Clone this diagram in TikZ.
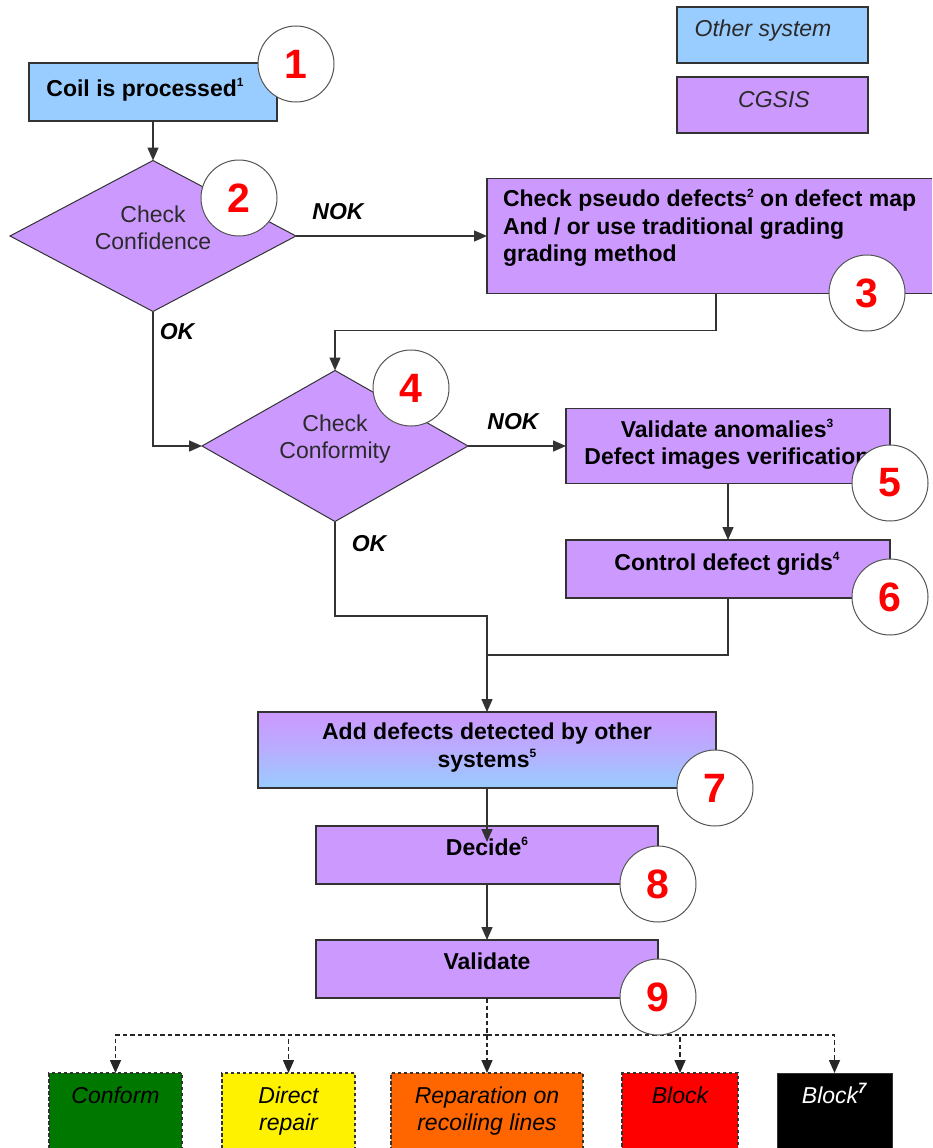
\documentclass[tikz,border=0pt]{standalone}
\usepackage{fontspec}
\setmainfont{Liberation Sans}
\usetikzlibrary{shapes.geometric,arrows.meta,calc}
\definecolor{cgsis}{HTML}{CC99FF}
\definecolor{other}{HTML}{99CCFF}
\definecolor{linec}{HTML}{333333}
\definecolor{circc}{HTML}{555555}
\definecolor{txtc}{HTML}{2A2A2A}
\definecolor{okgreen}{HTML}{007800}
\definecolor{orangeb}{HTML}{FF6600}
\newcommand\sups[1]{\smash{\raisebox{0.42em}{\fontsize{12}{12}\selectfont #1}}}
\begin{document}
\begin{tikzpicture}[x=1pt,y=-1pt,
  every node/.style={inner sep=0pt, outer sep=0pt},
  pbox/.style={draw=linec, line width=1.3pt, fill=cgsis},
  dec/.style={diamond, draw=linec, line width=1pt, fill=cgsis},
  num/.style={circle, draw=circc, line width=1pt, fill=white, minimum size=76pt, text=red, font=\fontsize{41}{41}\selectfont\bfseries},
  bt/.style={font=\fontsize{23}{27.5}\selectfont\bfseries, text=black},
  rt/.style={font=\fontsize{23}{27}\selectfont, text=txtc},
  it/.style={font=\fontsize{23}{27}\selectfont\itshape, text=txtc},
  lab/.style={font=\fontsize{23}{27.5}\selectfont\bfseries\itshape, text=black},
  conn/.style={draw=linec, line width=1.5pt},
  arr/.style={conn, -{Triangle[length=13pt,width=11pt]}},
  dline/.style={draw=black!85, line width=1.5pt, dash pattern=on 4.5pt off 3pt},
  darr/.style={dline, -{Triangle[length=13pt,width=11pt]}},
  obox/.style={draw=linec, line width=1.2pt, dash pattern=on 3.5pt off 2.5pt, minimum height=100pt},
  ot/.style={font=\fontsize{23}{27}\selectfont\itshape, text=black}
]
\useasboundingbox (0,0) rectangle (932,1148);
\clip (0,0) rectangle (932,1148);

% legend
\node[pbox, fill=other, minimum width=191pt, minimum height=56pt] (lg1) at (772.5,35) {};
\node[pbox, minimum width=191pt, minimum height=56pt] (lg2) at (772.5,105) {};
\node[it, anchor=base] (lg1t) at (763,37) {Other system};
\node[it, anchor=base] (lg2t) at (774,107) {CGSIS};

% boxes and decisions
\node[pbox, fill=other, minimum width=248pt, minimum height=58pt] (b1) at (153,92) {};
\node[dec, minimum width=286pt, minimum height=151pt] (d2) at (153,236) {};
\node[pbox, minimum width=458pt, minimum height=115pt] (b3) at (716,236) {};
\node[dec, minimum width=266pt, minimum height=151pt] (d4) at (335,446) {};
\node[pbox, minimum width=324pt, minimum height=75pt] (b5) at (728,446) {};
\node[pbox, minimum width=324pt, minimum height=58pt] (b6) at (728,569) {};
\node[draw=linec, line width=1.3pt, top color=cgsis, bottom color=other, middle color=cgsis!60!other, minimum width=458pt, minimum height=76pt] (b7) at (487,750) {};
\node[pbox, minimum width=342pt, minimum height=58pt] (b8) at (487,855) {};
\node[pbox, minimum width=342pt, minimum height=58pt] (b9) at (487,969) {};

% outcome boxes
\node[obox, fill=okgreen, minimum width=133pt] (o1) at (115.5,1123) {};
\node[obox, fill=yellow, minimum width=133pt] (o2) at (288.5,1123) {};
\node[obox, fill=orangeb, minimum width=192pt] (o3) at (487,1123) {};
\node[obox, fill=red, minimum width=116pt] (o4) at (680,1123) {};
\node[draw=linec, line width=1pt, fill=black, minimum height=100pt, minimum width=115pt] (o5) at (834.5,1123) {};

% texts
\node[bt, anchor=base] (t1) at (145,96) {Coil is processed\sups{1}};
\node[rt, align=center] (t2) at (153,227.5) {Check\\Confidence};
\node[bt, align=left, anchor=west] (t3) at (503,228.5) {Check pseudo defects\sups{2} on defect map\\And / or use traditional grading\\grading method};
\node[rt, align=center] (t4) at (335,439) {Check\\Conformity};
\node[bt, align=center] (t5) at (727,445) {Validate anomalies\sups{3}\\Defect images verification};
\node[bt, anchor=base] (t6) at (727,570) {Control defect grids\sups{4}};
\node[bt, align=center] (t7) at (487,747.5) {Add defects detected by other\\systems\sups{5}};
\node[bt, anchor=base] (t8) at (487,855) {Decide\sups{6}};
\node[bt, anchor=base] (t9) at (487,969) {Validate};
\node[ot, anchor=base] (to1) at (115.5,1103) {Conform};
\node[ot, align=center] (to2) at (288.5,1110.7) {Direct\\repair};
\node[ot, align=center] (to3) at (487,1110.7) {Reparation on\\recoiling lines};
\node[ot, anchor=base] (to4) at (680,1103) {Block};
\node[ot, anchor=base, text=white] (to5) at (834.5,1103) {Block\textsuperscript{\fontsize{15}{15}\selectfont\bfseries 7}};

% labels
\node[lab, anchor=base] (nok1) at (338,219) {NOK};
\node[lab, anchor=base] (ok1) at (177,339) {OK};
\node[lab, anchor=base] (nok2) at (513,429) {NOK};
\node[lab, anchor=base] (ok2) at (369,551) {OK};

% connectors
\coordinate (jn) at (487,616);
\coordinate (mg) at (487,655);
\coordinate (bus) at (487,1035);
\draw[arr] (b1.south) -- (d2.north);
\draw[arr] (d2.east) -- (b3.west);
\draw[arr] (b3.south) -- ++(0,37) -| (d4.north);
\draw[arr] (d2.south) |- (d4.west);
\draw[arr] (d4.east) -- (b5.west);
\draw[arr] (b5.south) -- (b6.north);
\draw[conn] (d4.south) |- (jn) -- (mg);
\draw[conn] (b6.south) |- (mg);
\draw[arr] (mg) -- (b7.north);
\draw[arr] (b7.south) -- ([yshift=-16pt]b8.north);
\draw[arr] (b8.south) -- (b9.north);
\draw[dline] (b9.south) -- (bus);
\draw[darr] (bus) -| (o1.north);
\draw[darr] (bus) -| (o2.north);
\draw[darr] (bus) -- (o3.north);
\draw[darr] (bus) -| (o4.north);
\draw[darr] (bus) -| (o5.north);

% number circles
\node[num] (n1) at (296,64) {1};
\node[num] (n2) at (239,198) {2};
\node[num] (n3) at (867,293) {3};
\node[num] (n4) at (411,388) {4};
\node[num] (n5) at (890,483) {5};
\node[num] (n6) at (890,597) {6};
\node[num] (n7) at (715,788) {7};
\node[num] (n8) at (658,884) {8};
\node[num] (n9) at (658,997) {9};
\end{tikzpicture}
\end{document}
